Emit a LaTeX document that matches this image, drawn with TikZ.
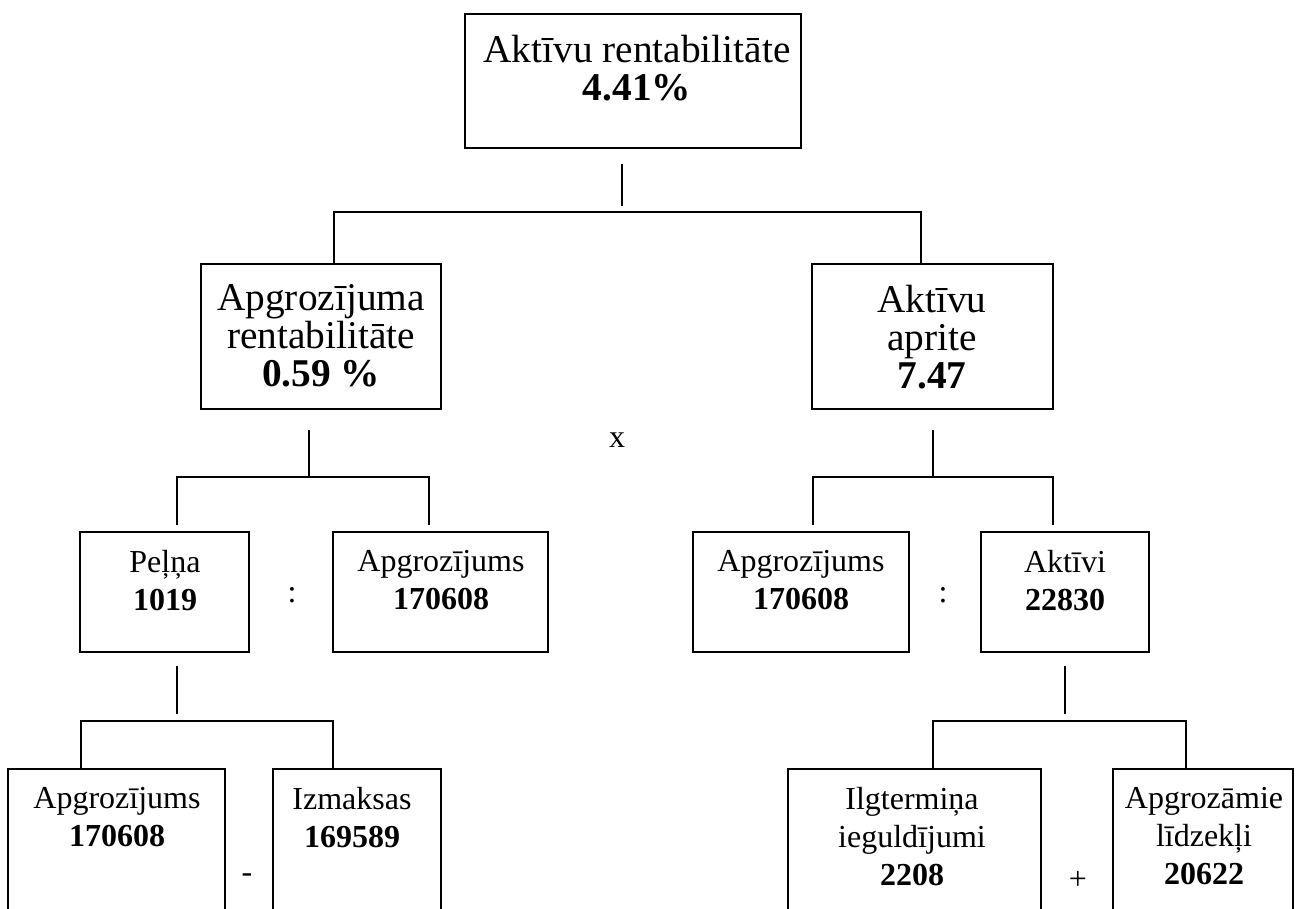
\documentclass[tikz,border=0pt]{standalone}
\usepackage{fontspec}
\setmainfont{Liberation Serif}
\usetikzlibrary{fit}

\begin{document}
\begin{tikzpicture}[x=0.75pt,y=0.75pt,yscale=-1,xscale=1,line width=1.4pt,
  box/.style={draw, inner sep=0pt},
  big/.style={align=center, inner sep=0pt, anchor=north, font=\fontsize{29.5}{28.5}\selectfont},
  small/.style={align=center, inner sep=0pt, anchor=north, font=\fontsize{24}{28.5}\selectfont},
  op/.style={inner sep=0pt, font=\fontsize{24}{28.5}\selectfont}]
\useasboundingbox (0,0) rectangle (1310,909);

%Shape: Rectangle [top]
\node[box, fit={(465,14) (801,148)}] (top) {};
\node[big] (top-t) at (637,34) {Aktīvu rentabilitāte\\\textbf{4.41\%}};

%Shape: Rectangle [level 2]
\node[box, fit={(201,264) (441,409)}] (ar) {};
\node[big] (ar-t) at (321,284) {Apgrozījuma\\rentabilitāte\\\textbf{0.59 \%}};
\node[box, fit={(812,264) (1053,409)}] (aa) {};
\node[big] (aa-t) at (932,284) {Aktīvu\\aprite\\\textbf{7.47}};

%Shape: Rectangle [level 3]
\node[box, fit={(80,532) (249,652)}] (pe) {};
\node[small] (pe-t) at (165,549) {Peļņa\\\textbf{1019}};
\node[box, fit={(333,532) (548,652)}] (ag1) {};
\node[small] (ag1-t) at (441,549) {Apgrozījums\\\textbf{170608}};
\node[box, fit={(693,532) (909,652)}] (ag2) {};
\node[small] (ag2-t) at (801,549) {Apgrozījums\\\textbf{170608}};
\node[box, fit={(981,532) (1149,652)}] (ak) {};
\node[small] (ak-t) at (1065,549) {Aktīvi\\\textbf{22830}};

%Shape: Rectangle [level 4, cut by the page]
\node[box, fit={(8,769) (225,940)}] (ag3) {};
\node[small] (ag3-t) at (117,786) {Apgrozījums\\\textbf{170608}};
\node[box, fit={(273,769) (441,940)}] (iz) {};
\node[small] (iz-t) at (352,786) {Izmaksas\\\textbf{169589}};
\node[box, fit={(788,769) (1041,940)}] (il) {};
\node[small] (il-t) at (912,786) {Ilgtermiņa\\ieguldījumi\\\textbf{2208}};
\node[box, fit={(1113,769) (1293,940)}] (al) {};
\node[small] (al-t) at (1204,786) {Apgrozāmie\\līdzekļi\\\textbf{20622}};

%Operators
\node[op] (times) at (617,440) {x};
\node[op] (div1) at (292,595) {:};
\node[op] (div2) at (943,595) {:};
\node[op] (minus) at (247,878) {-};
\node[op] (plus) at (1078,880) {+};

%Straight Lines [top]
\coordinate (s0) at (622,212);
\coordinate (b0l) at (334,212);
\coordinate (b0r) at (921,212);
\draw[shorten <=11pt, shorten >=4.5pt] (s0 |- top.south) -- (s0);
\draw (b0l |- ar.north) -- (b0l) -- (b0r) -- (b0r |- aa.north);

%Straight Lines [left]
\coordinate (s1) at (309,477);
\coordinate (b1l) at (177,477);
\coordinate (b1r) at (429,477);
\draw[shorten <=15pt] (s1 |- ar.south) -- (s1);
\draw[shorten <=4.5pt, shorten >=4.5pt] (b1l |- pe.north) -- (b1l) -- (b1r) -- (b1r |- ag1.north);

%Straight Lines [right]
\coordinate (s2) at (933,477);
\coordinate (b2l) at (813,477);
\coordinate (b2r) at (1053,477);
\draw[shorten <=15pt] (s2 |- aa.south) -- (s2);
\draw[shorten <=4.5pt, shorten >=4.5pt] (b2l |- ag2.north) -- (b2l) -- (b2r) -- (b2r |- ak.north);

%Straight Lines [Pelna]
\coordinate (s3) at (177,721);
\coordinate (b3l) at (81,721);
\coordinate (b3r) at (333,721);
\draw[shorten <=9.75pt, shorten >=5pt] (s3 |- pe.south) -- (s3);
\draw (b3l |- ag3.north) -- (b3l) -- (b3r) -- (b3r |- iz.north);

%Straight Lines [Aktivi]
\coordinate (s4) at (1065,721);
\coordinate (b4l) at (933,721);
\coordinate (b4r) at (1186,721);
\draw[shorten <=9.75pt, shorten >=5pt] (s4 |- ak.south) -- (s4);
\draw (b4l |- il.north) -- (b4l) -- (b4r) -- (b4r |- al.north);

\end{tikzpicture}
\end{document}
